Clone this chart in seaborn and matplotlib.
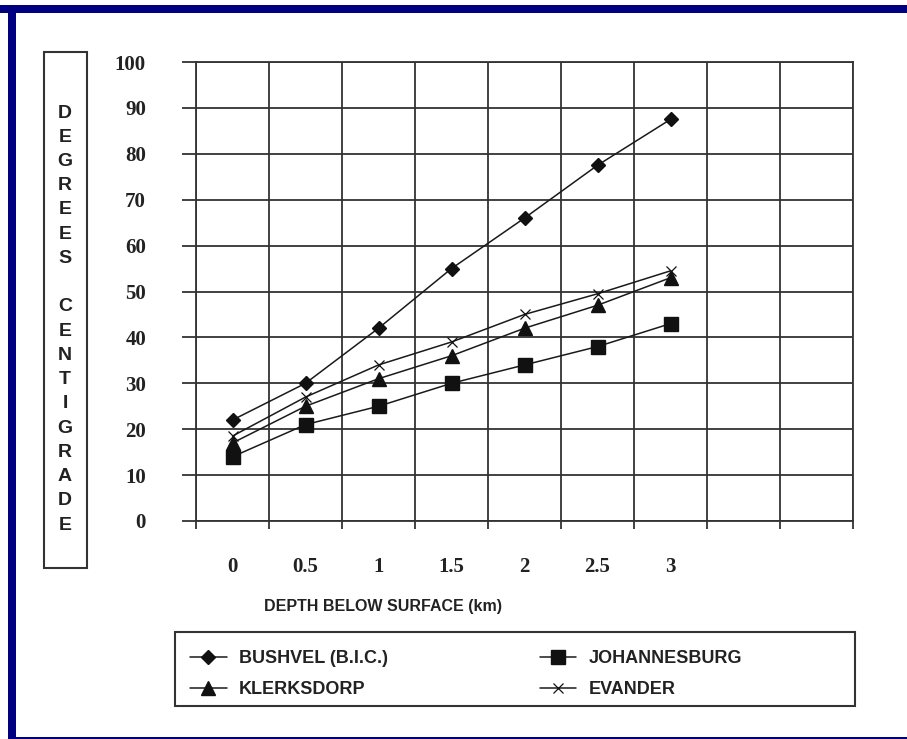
import matplotlib
matplotlib.use('Agg')
import matplotlib.pyplot as plt
import seaborn as sns
import pandas as pd
from matplotlib.patches import Rectangle

# ---- data ----
depth = [0, 0.5, 1, 1.5, 2, 2.5, 3]
depth_labels = ['0', '0.5', '1', '1.5', '2', '2.5', '3']
bushvel = [22, 30, 42, 55, 66, 77.5, 87.5]
klerksdorp = [17, 25, 31, 36, 42, 47, 53]
johannesburg = [14, 21, 25, 30, 34, 38, 43]
evander = [18.5, 27, 34, 39, 45, 49.5, 54.5]
series_names = ['BUSHVEL (B.I.C.)', 'KLERKSDORP', 'JOHANNESBURG', 'EVANDER']
y_ticks = [0, 10, 20, 30, 40, 50, 60, 70, 80, 90, 100]
x_grid = [-0.25, 0.25, 0.75, 1.25, 1.75, 2.25, 2.75, 3.25, 3.75, 4.25]
y_label_text = 'DEGREES CENTIGRADE'
x_label_text = 'DEPTH BELOW SURFACE (km)'

sns.set_style('white')
plt.rcParams['font.family'] = ['Liberation Sans', 'DejaVu Sans']

W, H = 907, 739
fig = plt.figure(figsize=(W / 100, H / 100), dpi=100)
fig.patch.set_facecolor('white')

def fx(px):
    return px / W

def fy(py):
    return 1 - py / H

ax = fig.add_axes([fx(196), fy(521), fx(853) - fx(196), fy(62) - fy(521)])

df = pd.DataFrame({
    'depth': depth * 4,
    'temp': bushvel + klerksdorp + johannesburg + evander,
    'series': [n for n in series_names for _ in depth],
})

styles = {
    'BUSHVEL (B.I.C.)': dict(marker='D', markersize=7, markeredgewidth=1),
    'KLERKSDORP': dict(marker='^', markersize=10, markeredgewidth=1),
    'JOHANNESBURG': dict(marker='s', markersize=9.5, markeredgewidth=1),
    'EVANDER': dict(marker='x', markersize=7, markeredgewidth=0.9),
}
for name in series_names:
    sub = df[df['series'] == name]
    sns.lineplot(data=sub, x='depth', y='temp', ax=ax, color='#1a1a1a',
                 linewidth=1.1, label=name, markerfacecolor='#111111',
                 markeredgecolor='#111111', **styles[name])

gc = '#333333'
ax.set_xlim(-0.25, 4.25)
ax.set_ylim(0, 100)
ax.set_xticks(depth)
ax.set_xticklabels(depth_labels)
ax.set_xticks(x_grid, minor=True)
ax.set_yticks(y_ticks)
ax.grid(False)
for xv in x_grid:
    ax.axvline(xv, color=gc, lw=1.3, zorder=0)
for yv in y_ticks:
    ax.axhline(yv, color=gc, lw=1.3, zorder=0)
for s in ax.spines.values():
    s.set_color(gc)
    s.set_linewidth(1.3)
ax.tick_params(axis='x', which='major', length=0, pad=26)
ax.tick_params(axis='x', which='minor', length=6, width=1.3, color=gc, direction='out', bottom=True)
ax.tick_params(axis='y', which='major', length=10, width=1.3, color=gc, direction='out', pad=26, left=True)
for lab in ax.get_xticklabels() + ax.get_yticklabels():
    lab.set_fontfamily('Liberation Serif')
    lab.set_fontweight('bold')
    lab.set_fontsize(15)
    lab.set_color('#222222')
ax.set_xlabel('')
ax.set_ylabel('')

# x label
fig.text(fx(383), fy(607), x_label_text, ha='center', va='center',
         fontsize=11.5, fontweight='bold', color='#222222')

# y label box with stacked letters
fig.add_artist(Rectangle((fx(44), fy(568)), fx(87) - fx(44), fy(52) - fy(568),
                         transform=fig.transFigure, fill=False, edgecolor='#333333', lw=1.5))
n = len(y_label_text)
y0, y1 = 113, 525
for i, ch in enumerate(y_label_text):
    if ch == ' ':
        continue
    py = y0 + (y1 - y0) * i / (n - 1)
    fig.text(fx(65), fy(py), ch, ha='center', va='center', fontsize=14,
             fontweight='bold', color='#222222')

# legend
handles, labels = ax.get_legend_handles_labels()
leg = ax.legend(handles, labels, ncol=2, loc='upper left',
                bbox_to_anchor=(fx(176), fy(636)),
                bbox_transform=fig.transFigure, frameon=False,
                handlelength=2.0, columnspacing=8.4,
                prop={'family': 'Liberation Sans', 'weight': 'bold', 'size': 13},
                borderpad=0.3, labelspacing=0.75, handletextpad=0.7)
for t in leg.get_texts():
    t.set_color('#222222')
fig.add_artist(Rectangle((fx(175), fy(706)), fx(855) - fx(175), fy(632) - fy(706),
                         transform=fig.transFigure, fill=False, edgecolor='#333333', lw=1.5))

# outer navy frame
navy = '#000080'
fig.add_artist(Rectangle((0, fy(13)), 1, fy(5) - fy(13), transform=fig.transFigure,
                         color=navy, lw=0))
fig.add_artist(Rectangle((fx(8), 0), fx(16) - fx(8), fy(5), transform=fig.transFigure,
                         color=navy, lw=0))
fig.add_artist(Rectangle((fx(8), 0), 1, fy(737), transform=fig.transFigure,
                         color=navy, lw=0))

fig.savefig('out.png', dpi=100, facecolor='white')
